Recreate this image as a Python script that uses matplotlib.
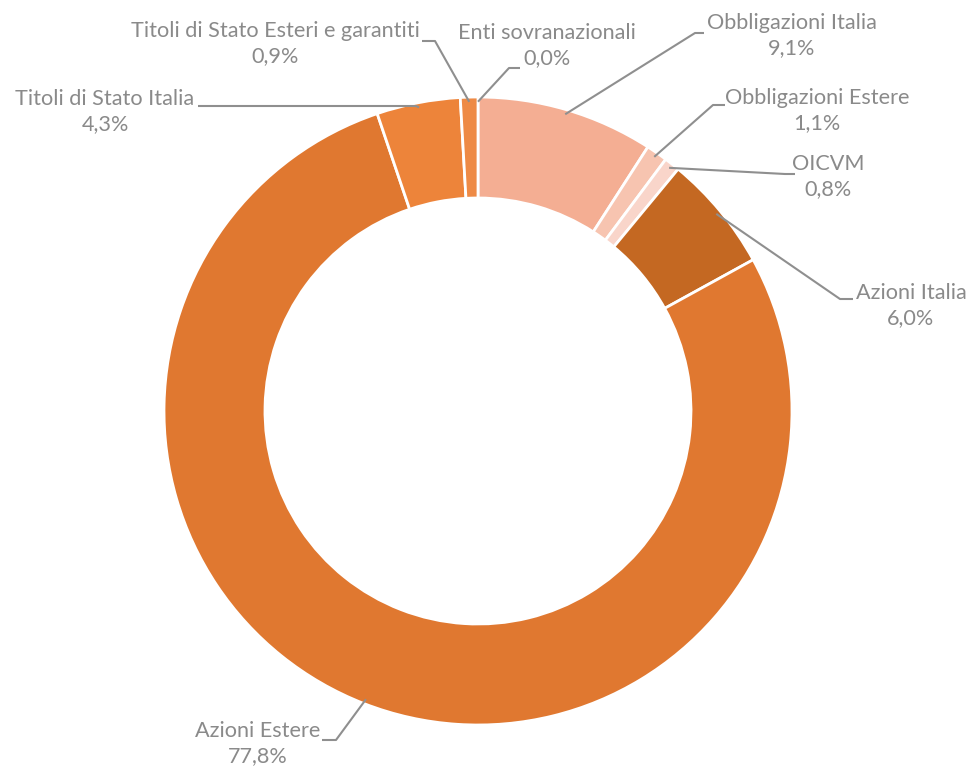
"""
    Donut chart: composizione del portafoglio
"""

import matplotlib
matplotlib.use('Agg')
import matplotlib.pyplot as plt
import numpy as np

W, H = 970, 767

labels = ['Enti sovranazionali', 'Obbligazioni Italia', 'Obbligazioni Estere', 'OICVM',
          'Azioni Italia', 'Azioni Estere', 'Titoli di Stato Italia',
          'Titoli di Stato Esteri e garantiti']
values = [0.0, 9.1, 1.1, 0.8, 6.0, 77.8, 4.3, 0.9]
colors = ['#E9A07F', '#F4AE93', '#F7C4B0', '#F9D5CA', '#C46822', '#E07830', '#ED843A', '#EE8A45']

# label layout in image pixels: (text center x, first line y, elbow, line end)
layout = [
    (547, 33, (509, 68), (520, 68)),
    (792, 23, (695, 33), (704, 33)),
    (817, 98, (713, 105), (725, 105)),
    (828, 164, (785, 174), (795, 174)),
    (911, 293, (840, 299), (853, 299)),
    (258, 731, (336, 740), (322, 740)),
    (105, 99, (416, 106), (198, 106)),
    (275, 31, (435, 41), (422, 41)),
]

text_col = '#8A8A8A'
line_col = '#8F8F8F'
plt.rcParams['font.family'] = ['Lato', 'DejaVu Sans']
fs = 15.6

fig = plt.figure(figsize=(W / 100, H / 100), dpi=100)
ax = fig.add_axes([0, 0, 1, 1])

cx, cy, R = 478, H - 411, 314
wedges, _ = ax.pie(values, colors=colors, startangle=90, counterclock=False,
                   radius=R, center=(cx, cy),
                   wedgeprops=dict(width=101, edgecolor='white', linewidth=2))

ax.set_xlim(0, W)
ax.set_ylim(0, H)
ax.set_aspect('equal')
ax.axis('off')

for w, lab, val, (tx, ty, elbow, end) in zip(wedges, labels, values, layout):
    mid = np.deg2rad((w.theta1 + w.theta2) / 2)
    sx = cx + R * 0.985 * np.cos(mid)
    sy = cy + R * 0.985 * np.sin(mid)
    ax.plot([sx, elbow[0], end[0]], [sy, H - elbow[1], H - end[1]],
            color=line_col, lw=1.5, solid_capstyle='butt')
    ax.text(tx, H - ty, lab, ha='center', va='center', fontsize=fs, color=text_col)
    pct = ('%.1f%%' % val).replace('.', ',')
    ax.text(tx, H - ty - 25, pct, ha='center', va='center', fontsize=fs, color=text_col)

fig.savefig('out.png', dpi=100, facecolor='white')
